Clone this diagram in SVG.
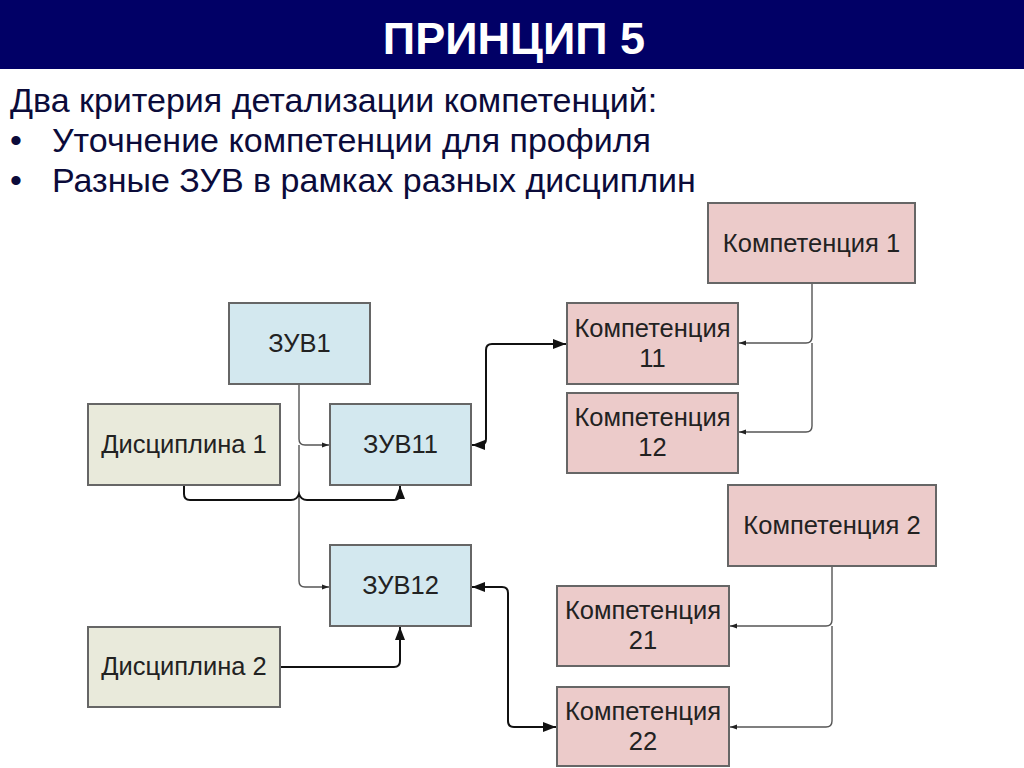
<svg xmlns="http://www.w3.org/2000/svg" width="1024" height="768" viewBox="0 0 1024 768">
<defs>
<style>
text{font-family:"Liberation Sans",Arimo,Arial,sans-serif}
.title{font-weight:bold;font-size:45px;fill:#fff}
.body{font-size:34px;fill:#0b0b3a}
.lbl{font-size:25.5px;fill:#222;text-anchor:middle}
.box{stroke:#666;stroke-width:2}
.zuv{fill:#d3e8ef}
.komp{fill:#eccbca}
.disc{fill:#e9eadb}
.thin{fill:none;stroke:#555;stroke-width:1.4}
.bold{fill:none;stroke:#111;stroke-width:2}
</style>
<marker id="ah" markerUnits="userSpaceOnUse" markerWidth="8" markerHeight="8" refX="7" refY="4" orient="auto-start-reverse" viewBox="0 0 8 8">
<path d="M0,1.5 L7,4 L0,6.5 Z" fill="#222"/>
</marker>
<marker id="ahb" markerUnits="userSpaceOnUse" markerWidth="14" markerHeight="12" refX="13" refY="6" orient="auto-start-reverse" viewBox="0 0 14 12">
<path d="M0,1 L13,6 L0,11 Z" fill="#111"/>
</marker>
</defs>
<rect x="0" y="0" width="1024" height="69" fill="#010066"/>
<text class="title" x="514" y="54" text-anchor="middle">ПРИНЦИП 5</text>
<text class="body" x="10" y="112">Два критерия детализации компетенций:</text>
<text class="body" x="10" y="152">•</text>
<text class="body" x="52" y="152">Уточнение компетенции для профиля</text>
<text class="body" x="10" y="192">•</text>
<text class="body" x="52" y="192">Разные ЗУВ в рамках разных дисциплин</text>

<g id="connectors">
<path class="thin" d="M299,384 V439 Q299,445 305,445 H329" marker-end="url(#ah)"/>
<path class="thin" d="M299,445 V581 Q299,587 305,587 H329" marker-end="url(#ah)"/>
<path class="bold" d="M184,486 V494 Q184,500 190,500 H291 Q297,500 299,494 Q301,500 307,500 H394 Q400,500 400,494 V486" marker-end="url(#ahb)"/>
<path class="bold" d="M280,667 H394 Q400,667 400,661 V627" marker-end="url(#ahb)"/>
<path class="bold" d="M472,445 H480 Q486,445 486,439 V350 Q486,344 492,344 H566" marker-start="url(#ahb)" marker-end="url(#ahb)"/>
<path class="bold" d="M472,587 H502 Q508,587 508,593 V721 Q508,727 514,727 H556" marker-start="url(#ahb)" marker-end="url(#ahb)"/>
<path class="thin" d="M812,284 V337 Q812,343 806,343 H739" marker-end="url(#ah)"/>
<path class="thin" d="M812,343 V426 Q812,432 806,432 H739" marker-end="url(#ah)"/>
<path class="thin" d="M832,567 V620 Q832,626 826,626 H730" marker-end="url(#ah)"/>
<path class="thin" d="M832,626 V721 Q832,727 826,727 H730" marker-end="url(#ah)"/>
</g>

<g id="zuv1"><rect class="box zuv" x="229" y="303" width="141" height="81"/><text class="lbl" x="299.5" y="352">ЗУВ1</text></g>
<g id="disc1"><rect class="box disc" x="88" y="404" width="192" height="81"/><text class="lbl" x="184" y="453">Дисциплина 1</text></g>
<g id="zuv11"><rect class="box zuv" x="330" y="404" width="141" height="81"/><text class="lbl" x="400.5" y="453">ЗУВ11</text></g>
<g id="zuv12"><rect class="box zuv" x="330" y="545" width="141" height="81"/><text class="lbl" x="400.5" y="594">ЗУВ12</text></g>
<g id="disc2"><rect class="box disc" x="88" y="627" width="192" height="80"/><text class="lbl" x="184" y="675">Дисциплина 2</text></g>
<g id="komp1"><rect class="box komp" x="708" y="203" width="207" height="80"/><text class="lbl" x="811.5" y="252">Компетенция 1</text></g>
<g id="komp11"><rect class="box komp" x="567" y="303" width="171" height="81"/><text class="lbl" x="652.5" y="337">Компетенция</text><text class="lbl" x="652.5" y="367">11</text></g>
<g id="komp12"><rect class="box komp" x="567" y="393" width="171" height="80"/><text class="lbl" x="652.5" y="426">Компетенция</text><text class="lbl" x="652.5" y="456">12</text></g>
<g id="komp2"><rect class="box komp" x="728" y="485" width="208" height="81"/><text class="lbl" x="832" y="534">Компетенция 2</text></g>
<g id="komp21"><rect class="box komp" x="557" y="586" width="172" height="80"/><text class="lbl" x="643" y="619">Компетенция</text><text class="lbl" x="643" y="649">21</text></g>
<g id="komp22"><rect class="box komp" x="557" y="687" width="172" height="79"/><text class="lbl" x="643" y="720">Компетенция</text><text class="lbl" x="643" y="750">22</text></g>
</svg>
